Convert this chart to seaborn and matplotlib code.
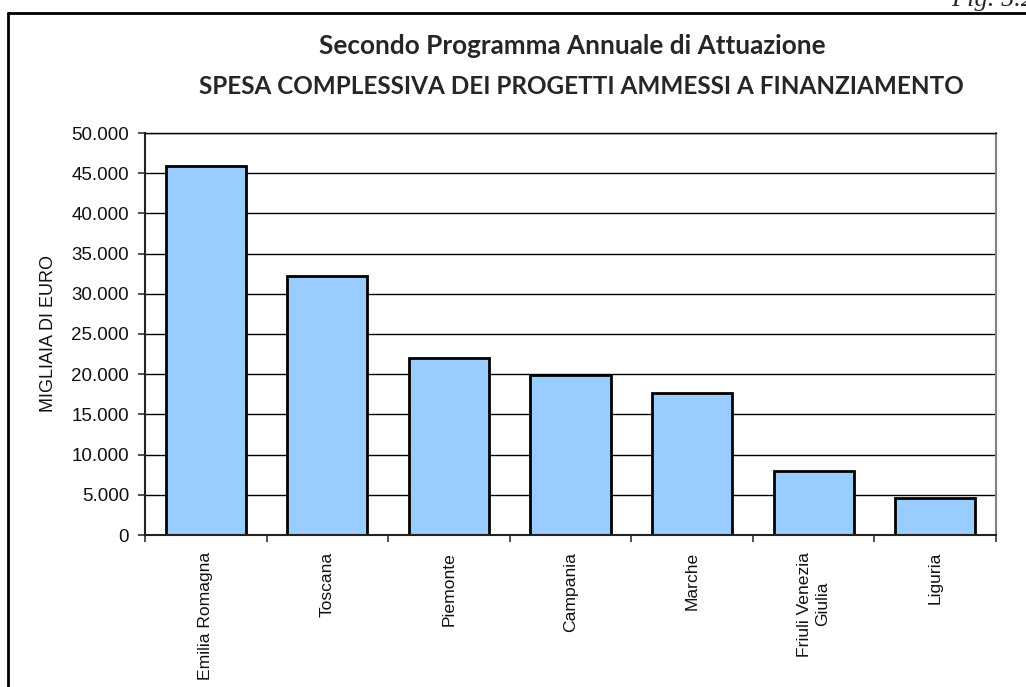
import matplotlib
matplotlib.use("Agg")
import matplotlib.pyplot as plt
from matplotlib.lines import Line2D
from matplotlib.ticker import FuncFormatter, MultipleLocator, FixedLocator
import seaborn as sns
import pandas as pd

# Spesa complessiva per regione (migliaia di euro)
regioni = ["Emilia Romagna", "Toscana", "Piemonte", "Campania", "Marche",
           "Friuli Venezia\nGiulia", "Liguria"]
spesa = [45900, 32200, 22000, 19850, 17650, 7900, 4650]

df = pd.DataFrame({"regione": regioni, "spesa": spesa})

sns.set_theme(style="white")
plt.rcParams["font.family"] = ["Liberation Sans", "DejaVu Sans"]

W, H = 1026, 687
fig = plt.figure(figsize=(W / 100, H / 100), dpi=100)
ax = fig.add_axes([145 / W, 1 - 535 / H, (996 - 145) / W, (535 - 133) / H])

sns.barplot(data=df, x="regione", y="spesa", color="#99CCFF",
            saturation=1, width=0.66, edgecolor="black", linewidth=2.0, ax=ax)

ax.set_xlim(-0.5, len(regioni) - 0.5)
ax.set_ylim(0, 50000)

# horizontal gridlines every 5.000
ax.yaxis.set_major_locator(MultipleLocator(5000))
ax.yaxis.set_major_formatter(FuncFormatter(lambda v, p: f"{int(v):,}".replace(",", ".")))
ax.grid(axis="y", color="black", linewidth=1.0)
ax.set_axisbelow(True)

# tick marks between categories, labels centred on bars
n = len(regioni)
ax.xaxis.set_major_locator(FixedLocator([i - 0.5 for i in range(n + 1)]))
ax.xaxis.set_minor_locator(FixedLocator(list(range(n))))
ax.set_xticklabels([""] * (n + 1))
ax.set_xticklabels(regioni, minor=True, rotation=90, va="top", ha="center",
                   fontsize=12.6, multialignment="center", color="#111111")
ax.tick_params(axis="x", which="major", direction="out", length=5, width=1.2,
               color="#333333", bottom=True)
ax.tick_params(axis="x", which="minor", length=0, pad=12)
ax.tick_params(axis="y", direction="out", length=5, width=1.2, color="#333333",
               left=True, labelsize=13.5, pad=6.5, labelcolor="#111111")

ax.set_xlabel("")
ax.set_ylabel("MIGLIAIA DI EURO", fontsize=13, labelpad=10, color="#111111")

for side in ["left", "bottom"]:
    ax.spines[side].set_color("#222222")
    ax.spines[side].set_linewidth(1.5)
ax.spines["top"].set_color("black")
ax.spines["top"].set_linewidth(1.0)
ax.spines["right"].set_color("#808080")
ax.spines["right"].set_linewidth(1.5)

# titles
TITLE = ["Lato", "DejaVu Sans"]
fig.text(572 / W, 1 - 46 / H, "Secondo Programma Annuale di Attuazione",
         ha="center", va="center", fontsize=18.8, fontweight="bold", family=TITLE)
fig.text(581 / W, 1 - 86 / H, "SPESA COMPLESSIVA DEI PROGETTI AMMESSI A FINANZIAMENTO",
         ha="center", va="center", fontsize=17.5, fontweight="bold", family=TITLE)

# page frame and figure number
fig.add_artist(Line2D([8 / W, 8 / W], [0, 1 - 13 / H], transform=fig.transFigure,
                      color="black", linewidth=2.0))
fig.add_artist(Line2D([8 / W, 1], [1 - 13 / H, 1 - 13 / H], transform=fig.transFigure,
                      color="black", linewidth=2.0))
fig.text(1034 / W, 1 - 6 / H, "Fig. 5.2", ha="right", va="baseline",
         fontsize=19, style="italic", family=["Liberation Serif", "DejaVu Serif"])

fig.savefig("out.png", dpi=100, facecolor="white")
